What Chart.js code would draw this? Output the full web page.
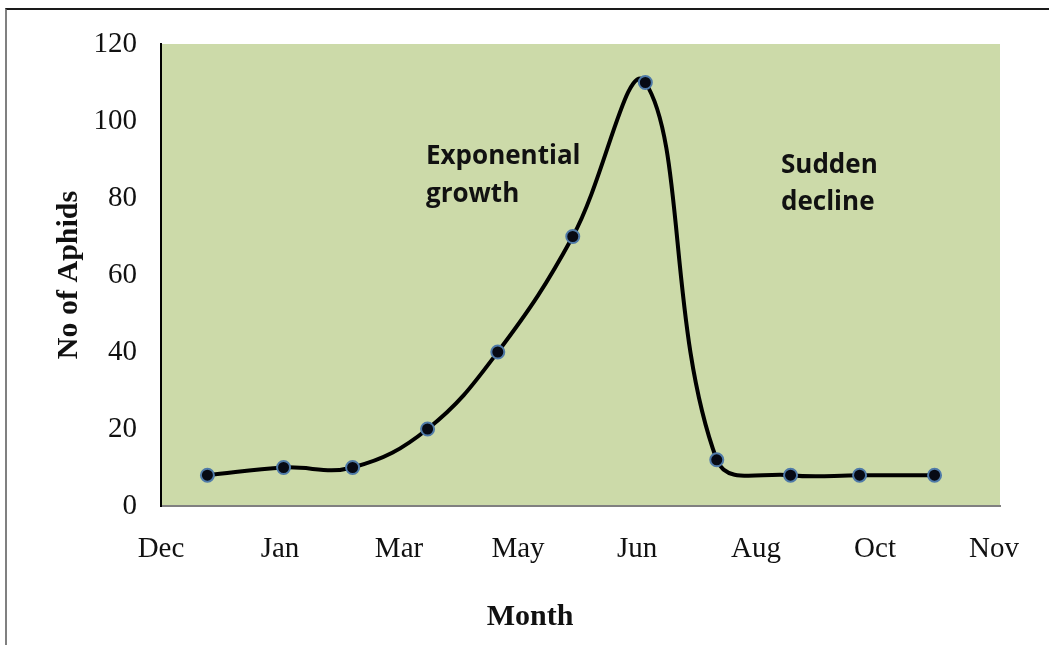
<!DOCTYPE html>
<html>
<head>
<meta charset="utf-8">
<script src="https://cdn.jsdelivr.net/npm/chart.js@4/dist/chart.umd.min.js"></script>
<style>
    html, body { margin: 0; padding: 0; background: #fff; }
    #frame {
        position: absolute; left: 5px; top: 8px; right: 0; bottom: 0;
        border-top: 2px solid #1a1a1a; border-left: 2px solid #808080;
        pointer-events: none;
    }
    #wrap { position: absolute; left: 0; top: 0; width: 1049px; height: 645px; }
</style>
</head>
<body>
<div id="frame"></div>
<div id="wrap"><canvas id="aphidChart" width="1049" height="645"></canvas></div>
<script>
// --- 資料 ---
const monthLabels = ['Dec', 'Jan', 'Mar', 'May', 'Jun', 'Aug', 'Oct', 'Nov'];
const sampleTimes = [0.39, 1.03, 1.61, 2.24, 2.83, 3.46, 4.07, 4.67, 5.29, 5.87, 6.5];
const aphidCounts = [8, 10, 10, 20, 40, 70, 110, 12, 8, 8, 8];
const yTickValues = [0, 20, 40, 60, 80, 100, 120];

const serif = "'Liberation Serif', 'Times New Roman', serif";
const sans = "'Open Sans', 'Noto Sans', sans-serif";

// 綠色繪圖區背景 + 文字註解
const plotDecor = {
    id: 'plotDecor',
    beforeDraw(chart) {
        const { ctx, chartArea: a } = chart;
        ctx.save();
        ctx.fillStyle = '#ccdaa9';
        ctx.fillRect(a.left, a.top, a.right - a.left, a.bottom - a.top);
        ctx.restore();
    },
    afterDraw(chart) {
        const ctx = chart.ctx;
        ctx.save();
        ctx.fillStyle = '#111';
        ctx.textAlign = 'left';
        ctx.textBaseline = 'alphabetic';
        ctx.font = "bold 26px " + sans;
        ctx.fillText('Exponential', 426, 164);
        ctx.fillText('growth', 426, 202);
        ctx.fillText('Sudden', 781, 173);
        ctx.fillText('decline', 781, 210);

        ctx.font = "bold 30px " + serif;
        ctx.textAlign = 'center';
        ctx.textBaseline = 'middle';
        ctx.fillText('Month', 530, 617);
        ctx.restore();
    }
};

new Chart(document.getElementById('aphidChart').getContext('2d'), {
    type: 'line',
    data: {
        datasets: [{
            data: sampleTimes.map((x, i) => ({ x: x, y: aphidCounts[i] })),
            borderColor: '#000',
            borderWidth: 4,
            tension: 0.4,
            pointRadius: 6.5,
            pointBackgroundColor: '#070a14',
            pointBorderColor: '#4f7aa8',
            pointBorderWidth: 2,
            clip: false
        }]
    },
    options: {
        responsive: false,
        animation: false,
        layout: { padding: { top: 44, right: 49, left: 0, bottom: 0 } },
        plugins: { legend: { display: false }, tooltip: { enabled: false } },
        scales: {
            x: {
                type: 'linear',
                min: 0,
                max: 7.05,
                afterBuildTicks: scale => { scale.ticks = monthLabels.map((_, i) => ({ value: i })); },
                afterFit: scale => { scale.height = 139; },
                grid: { display: false, drawTicks: false },
                border: { display: true, color: '#808080', width: 2 },
                ticks: {
                    padding: 26,
                    maxRotation: 0,
                    autoSkip: false,
                    color: '#111',
                    font: { size: 29, family: serif },
                    callback: v => monthLabels[v] ?? ''
                }
            },
            y: {
                min: 0,
                max: 120,
                afterBuildTicks: scale => { scale.ticks = yTickValues.map(v => ({ value: v })); },
                afterFit: scale => { scale.width = 161; },
                grid: { display: false, drawTicks: false },
                border: { display: true, color: '#000', width: 2 },
                ticks: {
                    padding: 24,
                    color: '#111',
                    font: { size: 29, family: serif }
                },
                title: {
                    display: true,
                    text: 'No of Aphids',
                    color: '#111',
                    padding: { top: 51, bottom: 0 },
                    font: { size: 30, weight: 'bold', family: serif }
                }
            }
        }
    },
    plugins: [plotDecor]
});
</script>
</body>
</html>
